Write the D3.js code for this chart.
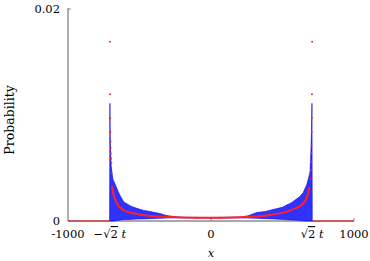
<!DOCTYPE html>
<html lang="en">
<head>
<meta charset="UTF-8">
<title>Probability distribution</title>
<script src="https://d3js.org/d3.v7.min.js"></script>
<style>
  body { margin: 0; background: #fff; }
  text { font-family: "DejaVu Serif", "Liberation Serif", serif; fill: #000; }
</style>
</head>
<body>
<div id="chart"></div>
<script>
// x positions and probabilities
var blueX     = [-709, -707, -705, -702, -698, -692, -685, -671, -650, -636, -610, -560, -520, -470, -427, -357, -310, -250, -200, 0, 200, 260, 320, 380, 440, 500, 529, 560, 600, 622, 645, 669, 685, 692, 699, 703, 706, 708];
var blueUpper = [0, 0.0111, 0.0080, 0.0065, 0.0052, 0.0045, 0.0039, 0.0035, 0.0028, 0.0024, 0.0018, 0.0014, 0.0012, 0.0010, 0.0009, 0.0007, 0.00052, 0.0004, 0.00034, 0.00033, 0.00036, 0.0005, 0.0008, 0.0009, 0.0011, 0.0013, 0.0015, 0.0017, 0.0021, 0.0023, 0.0027, 0.0034, 0.0042, 0.0046, 0.0067, 0.0085, 0.0111, 0];
var blueLower = [0, 0, 0, 0, 0, 0, 0, 0.00003, 0.00006, 0.0001, 0.00012, 0.00015, 0.00018, 0.0002, 0.00022, 0.00025, 0.00028, 0.0003, 0.0003, 0.00028, 0.0003, 0.00028, 0.00025, 0.00022, 0.0002, 0.00015, 0.00012, 0.0001, 0.00008, 0.00005, 0.00003, 0, 0, 0, 0, 0, 0, 0];

var redX = [-707, -706, -705, -704, -703, -702, -701, -699, -697, -695, -692, -683, -659, -613, -543, -427, -287, -100, 0, 63, 296, 413, 529, 599, 645, 673, 687, 697, 699, 701, 702, 703, 704, 705, 706, 707];
var redP = [0.0169, 0.01195, 0.0097, 0.0084, 0.0075, 0.0069, 0.0064, 0.0059, 0.0055, 0.0045, 0.0032, 0.0026, 0.00167, 0.00104, 0.00073, 0.00047, 0.00038, 0.00031, 0.0003, 0.00031, 0.0004, 0.00057, 0.00088, 0.00125, 0.00167, 0.0023, 0.0031, 0.0040, 0.0048, 0.0056, 0.0064, 0.0071, 0.0084, 0.0097, 0.01195, 0.0169];

var zeroSegments = [[-1000, -709], [709, 1000]];

var xTicks = [-1000, -707, 0, 707, 1000];
var xTickLabels = ["-1000", "-\u221A2 t", "0", "\u221A2 t", "1000"];
var yTicks = [0, 0.02];
var yTickLabels = ["0", "0.02"];

var width = 370, height = 261;
var plotLeft = 68, plotRight = 354, plotTop = 9, plotBottom = 221;

var svg = d3.select("#chart").append("svg")
  .attr("width", width)
  .attr("height", height);

var x = d3.scaleLinear().domain([-1000, 1000]).range([plotLeft, plotRight]);
var y = d3.scaleLinear().domain([0, 0.02]).range([plotBottom, plotTop]);

// axes
var axisColor = "#8c8c8c";
svg.append("line")
  .attr("x1", plotLeft).attr("x2", plotLeft).attr("y1", y(0)).attr("y2", y(0.02) - 1)
  .attr("stroke", axisColor).attr("stroke-width", 1.4);
svg.append("line")
  .attr("x1", plotLeft).attr("x2", plotRight).attr("y1", y(0)).attr("y2", y(0))
  .attr("stroke", axisColor).attr("stroke-width", 1.4);

svg.selectAll(".ytick").data(yTicks).enter().append("line")
  .attr("x1", plotLeft).attr("x2", plotLeft + 3)
  .attr("y1", function(d) { return y(d); }).attr("y2", function(d) { return y(d); })
  .attr("stroke", axisColor).attr("stroke-width", 1);
svg.selectAll(".xtick").data([0, 1000]).enter().append("line")
  .attr("x1", function(d) { return x(d); }).attr("x2", function(d) { return x(d); })
  .attr("y1", y(0)).attr("y2", y(0) - 3)
  .attr("stroke", axisColor).attr("stroke-width", 1);

svg.selectAll(".ylab").data(yTicks).enter().append("text")
  .attr("x", plotLeft - 8)
  .attr("y", function(d) { return y(d) + 4; })
  .attr("text-anchor", "end")
  .attr("font-size", 11.5)
  .text(function(d, i) { return yTickLabels[i]; });

var xl = svg.selectAll(".xlab").data(xTicks).enter().append("text")
  .attr("x", function(d) { return x(d); })
  .attr("y", y(0) + 17)
  .attr("text-anchor", "middle")
  .attr("font-size", 11.5);
xl.each(function(d, i) {
  var t = d3.select(this);
  var s = xTickLabels[i];
  if (s.indexOf("t") < 0) { t.text(s); return; }
  if (s.charAt(0) === "-") t.append("tspan").text("\u2212");
  t.append("tspan").text("\u221A");
  t.append("tspan").style("text-decoration", "overline").text("2");
  t.append("tspan").attr("font-style", "italic").text(" t");
});

svg.append("text")
  .attr("x", x(0)).attr("y", 257)
  .attr("text-anchor", "middle")
  .attr("font-size", 11.5)
  .attr("font-style", "italic")
  .text("x");

svg.append("text")
  .attr("transform", "translate(14," + 120 + ") rotate(-90)")
  .attr("text-anchor", "middle")
  .attr("font-size", 12.5)
  .text("Probability");

// blue band
var blue = blueX.map(function(v, i) { return {x: v, lo: blueLower[i], hi: blueUpper[i]}; });
svg.append("path")
  .datum(blue)
  .attr("d", d3.area()
    .x(function(d) { return x(d.x); })
    .y0(function(d) { return y(d.lo); })
    .y1(function(d) { return y(d.hi); }))
  .attr("fill", "#1c1cff")
  .attr("fill-opacity", 0.9)
  .attr("stroke", "#0000ff")
  .attr("stroke-width", 0.6)
  .attr("stroke-linejoin", "round");

// red zero segments outside the support
svg.selectAll(".zero").data(zeroSegments).enter().append("line")
  .attr("x1", function(d) { return x(d[0]); })
  .attr("x2", function(d) { return x(d[1]); })
  .attr("y1", y(0)).attr("y2", y(0))
  .attr("stroke", "#e02020").attr("stroke-opacity", 0.75).attr("stroke-width", 1.4);

// red limit density
var red = redX.map(function(v, i) { return {x: v, p: redP[i]}; });
svg.append("path")
  .datum(red)
  .attr("d", d3.line()
    .defined(function(d) { return d.p <= 0.0033; })
    .curve(d3.curveMonotoneX)
    .x(function(d) { return x(d.x); })
    .y(function(d) { return y(d.p); }))
  .attr("fill", "none")
  .attr("stroke", "#ff2222")
  .attr("stroke-width", 2);

svg.selectAll(".dot").data(red).enter().append("circle")
  .attr("cx", function(d) { return x(d.x); })
  .attr("cy", function(d) { return y(d.p); })
  .attr("r", 1)
  .attr("fill", "#ff2222");
</script>
</body>
</html>
